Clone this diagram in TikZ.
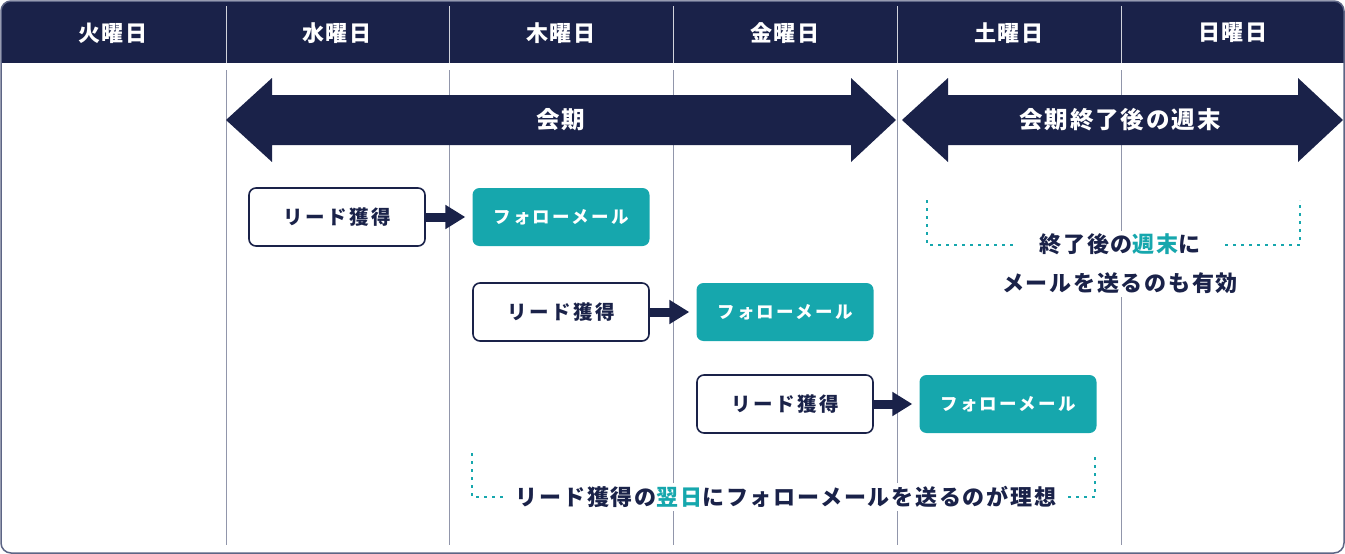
\documentclass[tikz,border=0pt]{standalone}
\usepackage{fontspec}
\usetikzlibrary{arrows.meta}
\newfontfamily\jpfont{Noto Sans CJK JP}[LetterSpace=8]
\newfontfamily\jpbox{Noto Sans CJK JP}[LetterSpace=13]
\definecolor{kainavy}{HTML}{1A2249}
\definecolor{mailteal}{HTML}{16A7AD}
\definecolor{rulegray}{HTML}{9196AB}
\definecolor{framegray}{HTML}{5D6585}
\tikzset{
  day/.style={text=white, font=\jpfont\bfseries\fontsize{22}{26}\selectfont},
  band/.style={text=white, font=\jpfont\bfseries\fontsize{23.5}{27}\selectfont},
  lead/.style={draw=kainavy, line width=1.6pt, fill=white, rounded corners=7pt,
    minimum width=176pt, minimum height=58pt, text=kainavy,
    font=\jpbox\bfseries\fontsize{19.5}{23}\selectfont},
  follow/.style={fill=mailteal, rounded corners=7pt, minimum width=177pt,
    minimum height=58pt, text=white, font=\jpbox\bfseries\fontsize{17.5}{21}\selectfont},
  push/.style={-{Triangle[length=20pt,width=23pt]}, line width=9pt, kainavy, shorten >=7pt},
  note/.style={fill=white, text=kainavy, align=center, inner xsep=8pt,
    font=\jpfont\bfseries\fontsize{22}{39}\selectfont},
  bracket/.style={mailteal, line width=1.5pt, dash pattern=on 3pt off 5pt}
}
\begin{document}
\begin{tikzpicture}[x=1pt,y=-1pt]
  \useasboundingbox (0,0) rectangle (1345,554);

  % frame and header
  \begin{scope}
    \clip[rounded corners=10pt] (1,1) rectangle (1344,553);
    \fill[kainavy] (1,1) rectangle (1344,63);
  \end{scope}
  \draw[framegray, line width=1.5pt, rounded corners=10pt] (1,1) rectangle (1344,553);

  \foreach \x in {226,449,673,897,1121} {
    \draw[white!80!kainavy, line width=1pt] (\x,6) -- (\x,63);
    \draw[rulegray, line width=1pt] (\x,70) -- (\x,545);
  }

  \foreach \d [count=\i] in {火曜日,水曜日,木曜日,金曜日,土曜日,日曜日}
    \node[day] (d\i) at ({113+224*(\i-1)},33) {\d};

  % period arrows
  \fill[kainavy] (226,120) -- (272,78) -- (272,95) -- (851,95) -- (851,78) -- (896,120)
    -- (851,162) -- (851,145) -- (272,145) -- (272,162) -- cycle;
  \fill[kainavy] (902,120) -- (948,78) -- (948,95) -- (1298,95) -- (1298,78) -- (1343,120)
    -- (1298,162) -- (1298,145) -- (948,145) -- (948,162) -- cycle;
  \node[band] (term)  at (561,120)  {会期};
  \node[band] (after) at (1120,120) {会期終了後の週末};

  % leads and mails
  \begin{scope}[every node/.style={lead}]
    \node (l1) at (337,217) {リード獲得};
    \node (l2) at (561,312) {リード獲得};
    \node (l3) at (785,404) {リード獲得};
  \end{scope}
  \begin{scope}[every node/.style={follow}]
    \node (f1) at (561,217)  {フォローメール};
    \node (f2) at (785,312)  {フォローメール};
    \node (f3) at (1008,404) {フォローメール};
  \end{scope}

  \path (l1) edge[push] (f1);
  \path (l2) edge[push] (f2);
  \path (l3) edge[push] (f3);

  % notes
  \coordinate (b1) at (472,453);
  \coordinate (b2) at (1095,453);
  \draw[bracket] (b1) -- ++(0,44) -| (b2);
  \node[note] (ideal) at (786,497) {リード獲得の\textcolor{mailteal}{翌日}にフォローメールを送るのが理想};

  \node[note, inner xsep=0pt] (weekend) at (1120,264)
    {終了後の\textcolor{mailteal}{週末}に\\メールを送るのも有効};
  \coordinate (c1) at (927,200);
  \coordinate (c2) at (1300,200);
  \coordinate (c3) at (1015,245);
  \coordinate (c4) at (1225,245);
  \draw[bracket] (c1) |- (c3);
  \draw[bracket] (c4) -| (c2);

\end{tikzpicture}
\end{document}
